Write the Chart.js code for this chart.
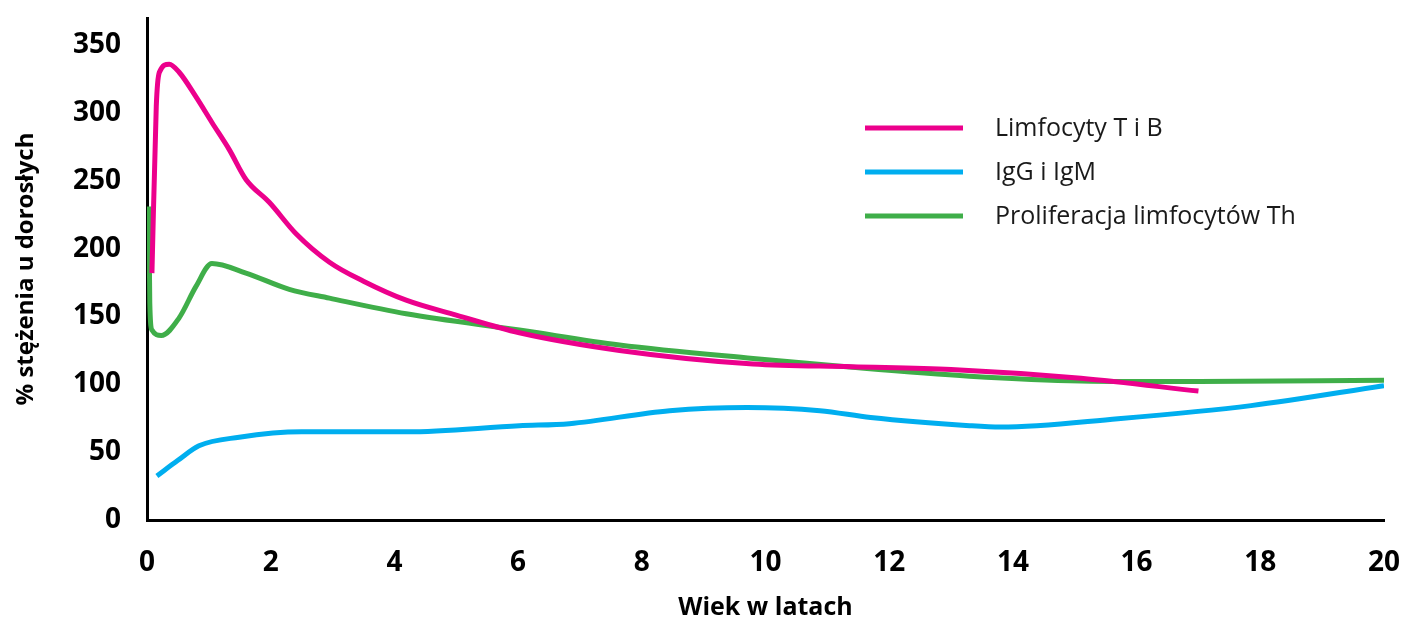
<!DOCTYPE html>
<html>
<head>
<meta charset="utf-8">
<script src="https://cdn.jsdelivr.net/npm/chart.js@4"></script>
<style>
  html, body { margin: 0; padding: 0; background: #fff; }
  canvas { display: block; }
</style>
</head>
<body>
<canvas id="chart" width="1406" height="623"></canvas>
<script>
// Series data
const seriesNames = ['Limfocyty T i B', 'IgG i IgM', 'Proliferacja limfocytów Th'];

const limfAge = [0.08, 0.15, 0.2, 0.36, 0.52, 0.79, 1.05, 1.33, 1.6, 1.98, 2.41, 2.95, 3.5, 4.19, 5.0, 6.02, 7.64, 9.8, 11.4, 13.0, 15.1, 17.0];
const limfVal = [182, 305, 330, 336, 330, 312, 293, 273, 251, 234, 211, 190, 176, 162, 151, 138, 125, 115, 113, 111, 104.5, 95];

const iggAge = [0.16, 0.5, 0.84, 1.49, 2.5, 4.2, 6.02, 6.83, 8.45, 9.7, 10.88, 11.7, 13.3, 13.8, 15.7, 17.85, 20];
const iggVal = [32.5, 44, 54.7, 61, 65, 65, 69.5, 71, 80.6, 83, 80.6, 75.5, 69.5, 68.5, 74.7, 84.3, 99];

const prolAge = [0.03, 0.045, 0.08, 0.23, 0.52, 0.79, 1.05, 1.6, 2.3, 2.95, 4.19, 6.02, 7.64, 9.8, 11.4, 13.3, 15.1, 17.0, 20];
const prolVal = [231, 160, 140, 136, 149, 172, 189, 182, 170, 163.5, 152, 140, 129, 119, 112.5, 106, 102.5, 102, 103];

const xTicks = [0, 2, 4, 6, 8, 10, 12, 14, 16, 18, 20];
const yTicks = [0, 50, 100, 150, 200, 250, 300, 350];

const colors = ['#EC008C', '#00AEEF', '#3FAE49'];

function toPoints(xs, ys) {
  return xs.map((x, i) => ({ x: x, y: ys[i] }));
}

// legend drawn at a fixed spot inside the plot
const sideLegend = {
  id: 'sideLegend',
  afterDraw(chart) {
    const ctx = chart.ctx;
    ctx.save();
    chart.data.datasets.forEach((ds, i) => {
      const y = 128 + i * 44;
      ctx.strokeStyle = ds.borderColor;
      ctx.lineWidth = 5;
      ctx.beginPath();
      ctx.moveTo(865, y);
      ctx.lineTo(963, y);
      ctx.stroke();
      ctx.fillStyle = '#1a1a1a';
      ctx.font = '25px "Open Sans", sans-serif';
      ctx.textBaseline = 'middle';
      ctx.fillText(ds.label, 995, y + 1);
    });
    ctx.restore();
  }
};

const boldFont = '"Open Sans", sans-serif';

new Chart(document.getElementById('chart').getContext('2d'), {
  type: 'line',
  data: {
    datasets: [
      { label: seriesNames[0], data: toPoints(limfAge, limfVal), borderColor: colors[0] },
      { label: seriesNames[1], data: toPoints(iggAge, iggVal), borderColor: colors[1] },
      { label: seriesNames[2], data: toPoints(prolAge, prolVal), borderColor: colors[2] }
    ]
  },
  options: {
    responsive: false,
    animation: false,
    layout: { padding: { top: 18, right: 22, left: 0, bottom: 0 } },
    elements: {
      line: { borderWidth: 5, cubicInterpolationMode: 'monotone', fill: false },
      point: { radius: 0 }
    },
    plugins: {
      legend: { display: false },
      tooltip: { enabled: false }
    },
    scales: {
      x: {
        type: 'linear',
        min: 0,
        max: 20,
        afterFit: s => { s.height = 103; s.paddingLeft = 0; s.paddingRight = 0; },
        afterBuildTicks: s => { s.ticks = xTicks.map(v => ({ value: v })); },
        grid: { display: false, drawTicks: false },
        border: { display: true, color: '#000', width: 3 },
        ticks: {
          padding: 26,
          maxRotation: 0,
          color: '#000',
          font: { family: boldFont, size: 28, weight: 'bold' }
        },
        title: {
          display: true,
          text: 'Wiek w latach',
          color: '#000',
          padding: { top: 0, bottom: 0 },
          font: { family: boldFont, size: 25, weight: 'bold' }
        }
      },
      y: {
        min: 0,
        max: 370,
        afterFit: s => { s.width = 147; s.paddingTop = 0; s.paddingBottom = 0; },
        afterBuildTicks: s => { s.ticks = yTicks.map(v => ({ value: v })); },
        grid: { display: false, drawTicks: false },
        border: { display: true, color: '#000', width: 3 },
        ticks: {
          padding: 26,
          color: '#000',
          font: { family: boldFont, size: 28, weight: 'bold' }
        },
        title: {
          display: true,
          text: '% stężenia u dorosłych',
          color: '#000',
          padding: { top: 12, bottom: 0 },
          font: { family: boldFont, size: 24, weight: 'bold' }
        }
      }
    }
  },
  plugins: [sideLegend]
});
</script>
</body>
</html>
